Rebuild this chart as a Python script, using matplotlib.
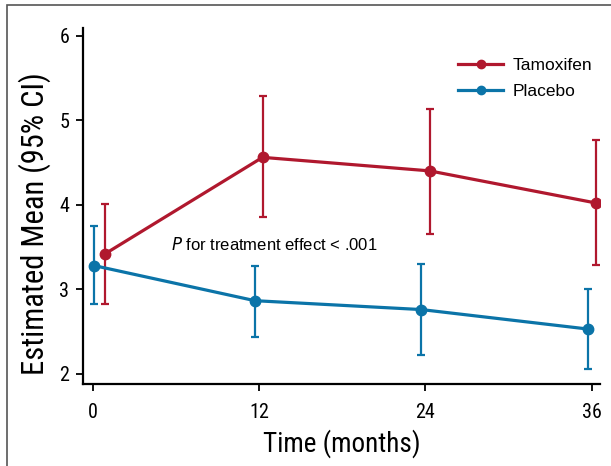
import matplotlib.pyplot as plt
import matplotlib.patches as patches

# data
months = [0, 12, 24, 36]
tam_x = [0.9, 12.25, 24.3, 36.3]
tam_mean = [3.42, 4.56, 4.40, 4.02]
tam_lo = [2.83, 3.85, 3.65, 3.29]
tam_hi = [4.01, 5.29, 5.13, 4.76]

pla_x = [0.1, 11.7, 23.7, 35.7]
pla_mean = [3.28, 2.865, 2.76, 2.53]
pla_lo = [2.83, 2.44, 2.22, 2.06]
pla_hi = [3.75, 3.28, 3.30, 3.00]

y_ticks = [2, 3, 4, 5, 6]

RED = "#B0182E"
BLUE = "#0B74A8"

cond = ["Roboto Condensed", "DejaVu Sans"]
plain = ["Liberation Sans", "DejaVu Sans"]

fig = plt.figure(figsize=(6.11, 4.66), dpi=100)
ax = fig.add_axes([0.1363, 0.176, 0.846, 0.764])

# outer frame (only top/left visible in the reference)
fig.patches.append(patches.Rectangle((7 / 611, -0.1), 1.2, 1 - 5 / 466 + 0.1,
                                     transform=fig.transFigure, fill=False,
                                     edgecolor="#555555", linewidth=1.2))


def draw(x, m, lo, hi, color, label):
    err = [[a - b for a, b in zip(m, lo)], [b - a for a, b in zip(m, hi)]]
    ax.errorbar(x, m, yerr=err, fmt="none", ecolor=color, elinewidth=1.6,
                capsize=3, capthick=1.6, zorder=2)
    ax.plot(x, m, color=color, linewidth=2.3, marker="o", markersize=7.5,
            label=label, zorder=3)


draw(tam_x, tam_mean, tam_lo, tam_hi, RED, "Tamoxifen")
draw(pla_x, pla_mean, pla_lo, pla_hi, BLUE, "Placebo")

ax.set_xlim(-0.68, 36.6)
ax.set_ylim(1.88, 6.09)
ax.set_xticks(months)
ax.set_yticks(y_ticks)
ax.spines["top"].set_visible(False)
ax.spines["right"].set_visible(False)
for s in ("left", "bottom"):
    ax.spines[s].set_linewidth(1.6)
ax.tick_params(width=1.3, length=5, labelsize=14.5, pad=5)
for lab in ax.get_xticklabels() + ax.get_yticklabels():
    lab.set_fontfamily(cond)
ax.tick_params(axis="x", pad=9)

ax.set_xlabel("Time (months)", fontsize=19.5, family=cond, labelpad=5)
ax.set_ylabel("Estimated Mean (95% CI)", fontsize=22, family=cond)
ax.yaxis.set_label_coords(-0.063, 0.45)

ax.text(5.65, 3.53, r"$\it{P}$ for treatment effect < .001", fontsize=12,
        family=plain, va="center")

leg = ax.legend(loc="upper right", bbox_to_anchor=(1.014, 0.96), frameon=False,
                prop={"family": plain, "size": 12.5}, handlelength=2.6,
                handletextpad=0.5, labelspacing=0.65, markerscale=0.8)

fig.savefig("out.png", dpi=100)
